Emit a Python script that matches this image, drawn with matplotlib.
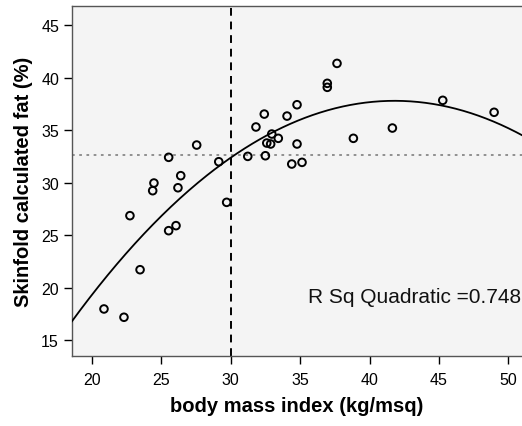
import matplotlib
matplotlib.use("Agg")
import matplotlib.pyplot as plt
import numpy as np

plt.rcParams['font.family'] = ['Liberation Sans', 'DejaVu Sans']

# Data
bmi = [27.54, 25.52, 29.13, 26.39, 24.46, 24.37, 26.19, 22.73, 25.52, 26.05,
       23.46, 20.86, 22.30, 29.70, 37.65, 36.95, 36.95, 34.77, 32.41, 34.05,
       31.81, 32.95, 33.42, 32.59, 32.87, 34.77, 31.22, 32.49, 34.39, 35.13,
       38.83, 41.64, 45.27, 48.97]
fat = [33.58, 32.41, 31.99, 30.66, 29.96, 29.23, 29.51, 26.85, 25.42, 25.90,
       21.70, 17.96, 17.17, 28.12, 41.36, 39.46, 39.08, 37.42, 36.53, 36.34,
       35.30, 34.63, 34.22, 33.77, 33.68, 33.68, 32.50, 32.56, 31.77, 31.93,
       34.22, 35.20, 37.84, 36.70]

# Quadratic fit coefficients: y = b0 + b1*x + b2*x^2
b0, b1, b2 = -30.12, 3.2495, -0.03887
r_sq = 0.748
bmi_ref = 30
fat_ref = 32.6

x_ticks = [20, 25, 30, 35, 40, 45, 50]
y_ticks = [15, 20, 25, 30, 35, 40, 45]

fig = plt.figure(figsize=(5.22, 4.27), dpi=100)
ax = fig.add_axes([71.5/522, 1-357.3/427, 1-71.5/522, (357.3-7.3)/427])
ax.set_facecolor('#f4f4f4')
ax.set_xlim(18.52, 50.98)
ax.set_ylim(13.45, 46.8)

xs = np.linspace(18.52, 50.98, 300)
ax.plot(xs, b0 + b1*xs + b2*xs**2, color='black', lw=1.3, zorder=3)
ax.axvline(bmi_ref, color='black', lw=1.4, ls=(0, (4, 3)), zorder=2)
ax.axhline(fat_ref, color='#888888', lw=1.3, ls=(0, (1.5, 2.5)), zorder=2)
ax.scatter(bmi, fat, s=30, facecolors='none', edgecolors='black', linewidths=1.4, zorder=4)

ax.text(50.89, 18.63, 'R Sq Quadratic =%.3f' % r_sq,
        ha='right', va='baseline', fontsize=15, color='#111111')

ax.set_xticks(x_ticks)
ax.set_yticks(y_ticks)
ax.tick_params(direction='out', length=6, width=1, labelsize=11.5, colors='black', pad=3)
ax.tick_params(axis='x', pad=5)
ax.spines['right'].set_visible(False)
for s in ['left', 'top', 'bottom']:
    ax.spines[s].set_color('#555555')
    ax.spines[s].set_linewidth(1.0)

ax.set_xlabel('body mass index (kg/msq)', fontsize=14.5, fontweight='bold', labelpad=7)
ax.set_ylabel('Skinfold calculated fat (%)', fontsize=14.5, fontweight='bold', labelpad=6)

fig.savefig('out.png', dpi=100, facecolor='white')
